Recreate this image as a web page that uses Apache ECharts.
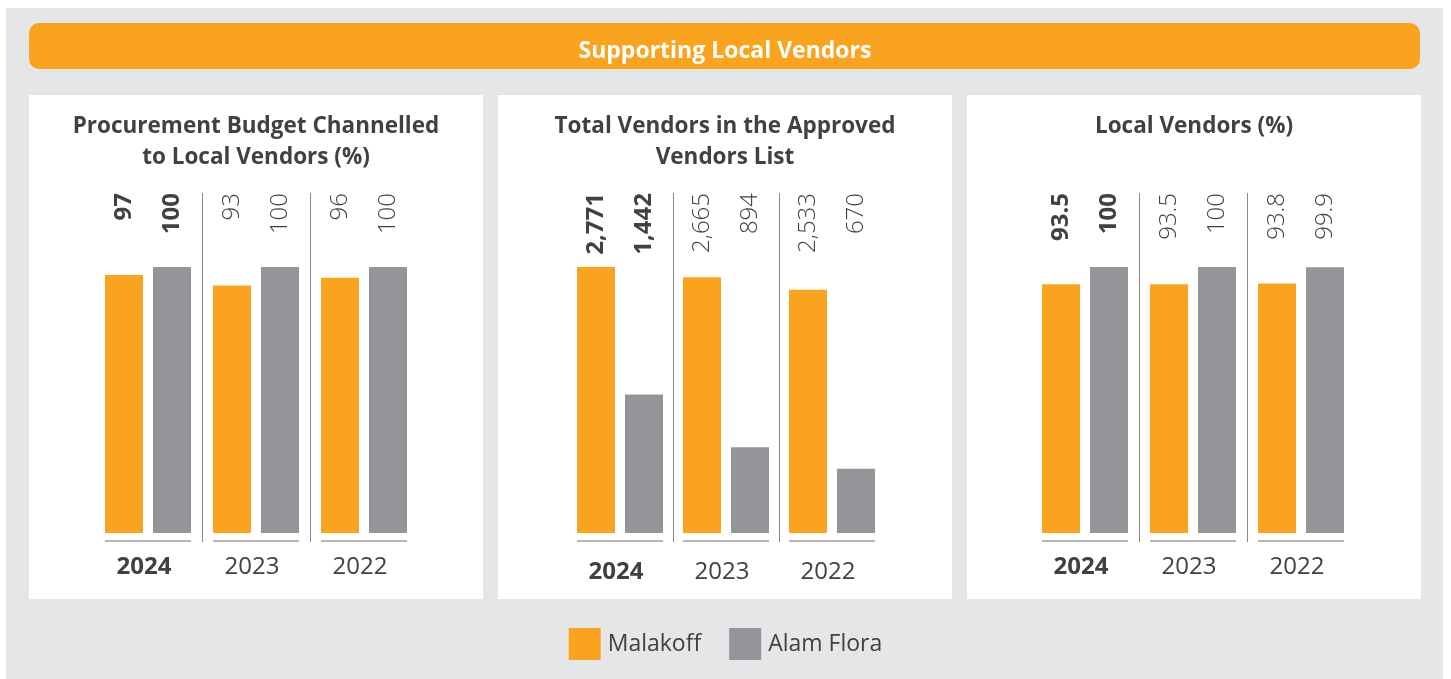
<!DOCTYPE html>
<html>
<head>
<meta charset="utf-8">
<script src="https://cdn.jsdelivr.net/npm/echarts@6/dist/echarts.min.js"></script>
<style>
  html, body { margin: 0; padding: 0; background: #ffffff; }
  #chart { width: 1451px; height: 679px; }
</style>
</head>
<body>
<div id="chart"></div>
<script>
// ---- data ----
const years = ['2024', '2023', '2022'];
const seriesNames = ['Malakoff', 'Alam Flora'];

const budgetMalakoff = [97, 93, 96];
const budgetAlamFlora = [100, 100, 100];

const vendorsMalakoff = [2771, 2665, 2533];
const vendorsAlamFlora = [1442, 894, 670];

const localMalakoff = [93.5, 93.5, 93.8];
const localAlamFlora = [100, 100, 99.9];

const panelTitles = [
  'Procurement Budget Channelled\nto Local Vendors (%)',
  'Total Vendors in the Approved\nVendors List',
  'Local Vendors (%)'
];
const headerTitle = 'Supporting Local Vendors';

// ---- style ----
const ORANGE = '#F9A31F';
const GREY = '#939598';
const TEXT = '#414042';
const FONT = '"Open Sans", "Noto Sans", sans-serif';
const BAR_W = 38;
const BAR_GAP = 10;

// panel frames and plot areas
const panels = [
  { x: 29,  w: 454, gridLeft: 94,   bandW: 108, labelMargin: 13 },
  { x: 498, w: 454, gridLeft: 567,  bandW: 106, labelMargin: 18 },
  { x: 967, w: 454, gridLeft: 1031, bandW: 108, labelMargin: 13 }
];
const GRID_TOP = 193;
const GRID_BOTTOM = 542;

const panelData = [
  { a: budgetMalakoff, b: budgetAlamFlora, fmt: v => String(v) },
  { a: vendorsMalakoff, b: vendorsAlamFlora, fmt: v => v.toLocaleString('en-US') },
  { a: localMalakoff, b: localAlamFlora, fmt: v => String(v) }
];

// value range: baseline sits 9px above the plot bottom, tallest bar stops 74px below the plot top
function valueRange(vals) {
  const maxVal = Math.max.apply(null, vals);
  const h = GRID_BOTTOM - GRID_TOP;
  const barPx = h - 9 - 74;
  const perPx = maxVal / barPx;
  return { min: -9 * perPx, max: maxVal + 74 * perPx };
}

// value labels pinned to the top of each plot, plus the rule under each year's pair of bars
function makeRenderItem(pd) {
  return function (params, api) {
    const idx = api.value(0);
    const cx = api.coord([idx, 0])[0];
    const cs = params.coordSys;
    const top = cs.y;
    const bottom = cs.y + cs.height;
    const off = (BAR_W + BAR_GAP) / 2;
    const bold = idx === 0;
    const mk = (x, val) => ({
      type: 'text',
      x: x,
      y: top,
      rotation: Math.PI / 2,
      style: {
        text: pd.fmt(val),
        fill: TEXT,
        fontFamily: FONT,
        fontSize: 24,
        fontWeight: bold ? 'bold' : 300,
        align: 'right',
        verticalAlign: 'middle'
      }
    });
    return {
      type: 'group',
      children: [
        mk(cx - off, api.value(1)),
        mk(cx + off, api.value(2)),
        {
          type: 'rect',
          shape: { x: cx - off - BAR_W / 2, y: bottom - 2, width: BAR_W * 2 + BAR_GAP, height: 2 },
          style: { fill: '#b5b5b5' }
        }
      ]
    };
  };
}

const grids = [], xAxes = [], yAxes = [], series = [], titles = [];

panels.forEach((p, i) => {
  const pd = panelData[i];
  grids.push({
    left: p.gridLeft,
    width: p.bandW * years.length,
    top: GRID_TOP,
    height: GRID_BOTTOM - GRID_TOP,
    containLabel: false
  });
  xAxes.push({
    type: 'category',
    gridIndex: i,
    data: years,
    boundaryGap: true,
    axisLine: { show: false },
    axisTick: { show: false },
    splitLine: {
      show: true,
      interval: 0,
      showMinLine: false,
      showMaxLine: false,
      lineStyle: { color: '#8a8a8a', width: 1 }
    },
    axisLabel: {
      interval: 0,
      margin: p.labelMargin,
      verticalAlign: 'top',
      formatter: (v, k) => (k === 0 ? '{b|' + v + '}' : '{n|' + v + '}'),
      rich: {
        b: { fontFamily: FONT, fontSize: 24, fontWeight: 'bold', color: TEXT, padding: [0, 8, 0, 0] },
        n: { fontFamily: FONT, fontSize: 24, fontWeight: 'normal', color: TEXT, padding: [0, 8, 0, 0] }
      }
    }
  });
  const r = valueRange(pd.a.concat(pd.b));
  yAxes.push({ type: 'value', gridIndex: i, show: false, min: r.min, max: r.max, splitLine: { show: false } });

  series.push({
    name: seriesNames[0], type: 'bar', xAxisIndex: i, yAxisIndex: i,
    data: pd.a, barWidth: BAR_W, barGap: (BAR_GAP / BAR_W * 100) + '%',
    itemStyle: { color: ORANGE }, silent: true
  });
  series.push({
    name: seriesNames[1], type: 'bar', xAxisIndex: i, yAxisIndex: i,
    data: pd.b, barWidth: BAR_W, barGap: (BAR_GAP / BAR_W * 100) + '%',
    itemStyle: { color: GREY }, silent: true
  });
  series.push({
    type: 'custom', xAxisIndex: i, yAxisIndex: i,
    data: years.map((y, k) => [k, pd.a[k], pd.b[k]]),
    renderItem: makeRenderItem(pd),
    silent: true, z: 5
  });

  titles.push({
    text: panelTitles[i],
    left: p.x + p.w / 2,
    top: 111,
    padding: 0,
    textAlign: 'center',
    textStyle: { fontFamily: FONT, fontSize: 22.5, fontWeight: 'bold', color: TEXT, lineHeight: 31 }
  });
});

titles.push({
  text: headerTitle,
  left: 725,
  top: 36,
  padding: 0,
  textAlign: 'center',
  textStyle: { fontFamily: FONT, fontSize: 23, fontWeight: 'bold', color: '#ffffff', lineHeight: 30 }
});

const chart = echarts.init(document.getElementById('chart'), null, { renderer: 'canvas' });
chart.setOption({
  animation: false,
  backgroundColor: '#ffffff',
  title: titles,
  grid: grids,
  xAxis: xAxes,
  yAxis: yAxes,
  series: series,
  legend: {
    data: seriesNames,
    left: 'center',
    top: 628,
    padding: 0,
    itemWidth: 32,
    itemHeight: 32,
    itemGap: 28,
    icon: 'rect',
    selectedMode: false,
    textStyle: { fontFamily: FONT, fontSize: 23, color: TEXT, padding: [0, 0, 0, 2] }
  },
  graphic: [
    { type: 'rect', z: -10, shape: { x: 6, y: 8, width: 1437, height: 671 }, style: { fill: '#E5E6E8' } },
    { type: 'rect', z: -9, shape: { x: 29, y: 23, width: 1391, height: 46, r: 10 }, style: { fill: ORANGE } },
    { type: 'rect', z: -9, shape: { x: 29, y: 95, width: 454, height: 504 }, style: { fill: '#ffffff' } },
    { type: 'rect', z: -9, shape: { x: 498, y: 95, width: 454, height: 504 }, style: { fill: '#ffffff' } },
    { type: 'rect', z: -9, shape: { x: 967, y: 95, width: 454, height: 504 }, style: { fill: '#ffffff' } }
  ]
});
</script>
</body>
</html>
